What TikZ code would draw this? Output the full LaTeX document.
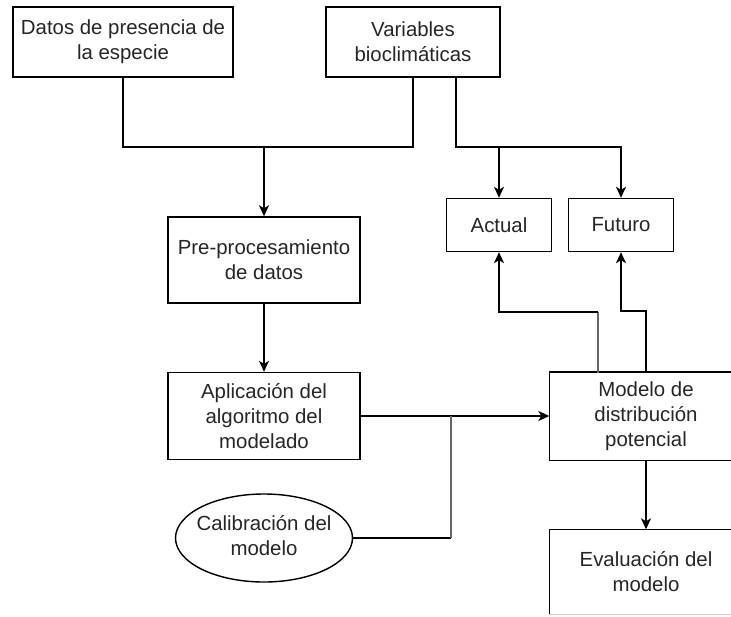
\documentclass[tikz,border=0pt]{standalone}
\usepackage{fontspec}
\setmainfont{Liberation Sans}
\usetikzlibrary{shapes.geometric,arrows.meta}
\begin{document}
\begin{tikzpicture}[x=1pt,y=-1pt,
  box/.style={draw=black, line width=1.4pt, align=center, inner sep=0pt,
    text=black!85, font=\fontsize{20.4}{25}\selectfont},
  openbox/.style={box, draw=none},
  conn/.style={draw=black, line width=1.4pt},
  greyconn/.style={draw=black!60, line width=1.6pt},
  arr/.style={-{Stealth[length=11pt,width=10pt,inset=3pt]}}]
\useasboundingbox (0,0) rectangle (731,616);
\clip (0,0) rectangle (731,616);
\fill[white] (0,0) rectangle (731,616);

\node[box, minimum width=220pt, minimum height=70pt] (b1) at (123,42) {Datos de presencia de\\la especie};
\node[box, minimum width=174pt, minimum height=70pt] (b2) at (413,42) {Variables\\bioclimáticas};
\node[box, minimum width=192pt, minimum height=86pt] (b3) at (264,260) {Pre-procesamiento\\de datos};
\node[box, minimum width=192pt, minimum height=87pt] (b4) at (264,416) {Aplicación del\\algoritmo del\\modelado};
\node[box, minimum width=105pt, minimum height=53pt] (act) at (499,225) {Actual};
\node[box, minimum width=105pt, minimum height=53pt] (fut) at (621,225) {Futuro};
\node[openbox, minimum width=192pt, minimum height=87pt] (mod) at (646,416) {Modelo de\\distribución\\potencial};
\node[openbox, minimum width=192pt, minimum height=84pt] (eva) at (646,572) {Evaluación del\\modelo};
\node[box, ellipse, minimum width=177pt, minimum height=88pt] (cal) at (264,538)
  {\makebox[100pt][c]{\begin{tabular}{@{}c@{}}Calibración del\\modelo\end{tabular}}};

% right parts of these two boxes are cut off by the picture's edge
\draw[conn] ([xshift=20pt]mod.north east) -- (mod.north west) -- (mod.south west) -- ([xshift=20pt]mod.south east);
\draw[conn] (eva.south west) -- (eva.north west) -- ([xshift=20pt]eva.north east);
\draw[draw=black!20, line width=1pt] (eva.south west) -- ([xshift=20pt]eva.south east);

\coordinate (j1) at (264,147);
\coordinate (v1) at (456,77);
\coordinate (j2) at (456,147);
\coordinate (m1) at (598,373);
\coordinate (m2) at (598,312);
\coordinate (jx) at (451,416);
\coordinate (jc) at (451,538);

\draw[conn] (b1.south) |- (j1) -| (b2.south);
\draw[conn,arr] (j1) -- (b3.north);
\draw[conn,arr] (v1) -- (j2) -| (fut.north);
\draw[conn,arr] (j2 -| act.north) -- (act.north);
\draw[conn,arr] (b3.south) -- (b4.north);
\draw[conn,arr] (b4.east) -- (mod.west);
\draw[conn] (cal.east) -- (jc);
\draw[greyconn] (jc) -- (jx);
\draw[greyconn] (m1) -- (m2);
\draw[conn,arr] (m2) -| (act.south);
\draw[conn,arr] (mod.north) -- ++(0,-61) -| (fut.south);
\draw[conn,arr] (mod.south) -- (eva.north);
\end{tikzpicture}
\end{document}
